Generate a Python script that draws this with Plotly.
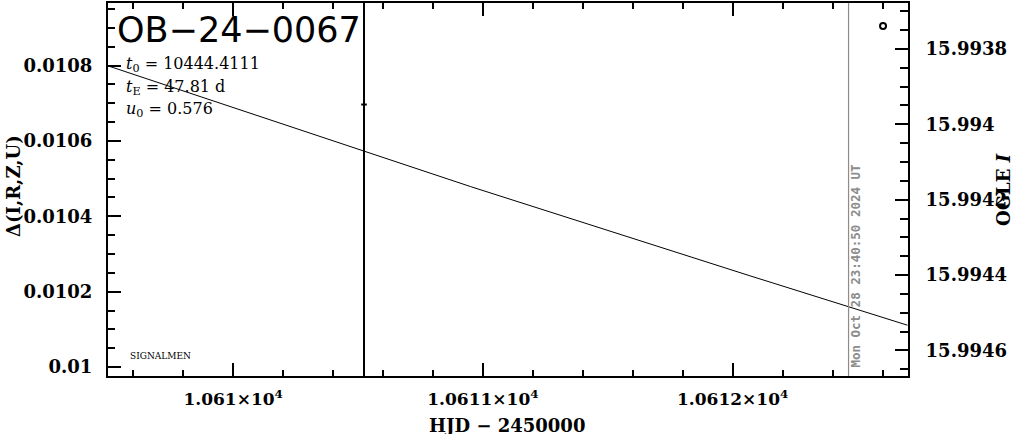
import plotly.graph_objects as go

# ---- data ----
model_t = [10609.50, 10610.53, 10610.95, 10612.07, 10612.46, 10612.70]
model_delta = [0.010799, 0.010571, 0.010479, 0.010242, 0.010161, 0.010111]

obs_t = [10610.524]
obs_delta = [0.0106966]
obs_err = [0.003]

ogle_t = [10612.602]
ogle_mag = [15.993739]

now_t = 10612.464
now_label = "Mon Oct 28 23:40:50 2024 UT"

event_name = "OB\u221224\u22120067"
param_lines = ["<i>t</i><sub>0</sub> = 10444.4111",
               "<i>t</i><sub>E</sub> = 47.81 d",
               "<i>u</i><sub>0</sub> = 0.576"]

x_tickvals = [10610, 10611, 10612]
x_ticktext = ["1.061\u00d710<sup>4</sup>", "1.0611\u00d710<sup>4</sup>", "1.0612\u00d710<sup>4</sup>"]
y_tickvals = [0.0100, 0.0102, 0.0104, 0.0106, 0.0108]
y_ticktext = ["0.01", "0.0102", "0.0104", "0.0106", "0.0108"]
y2_tickvals = [15.9938, 15.9940, 15.9942, 15.9944, 15.9946]
y2_ticktext = ["15.9938", "15.994", "15.9942", "15.9944", "15.9946"]

x_range = [10609.499, 10612.702]
y_range = [0.0099763, 0.010966]
y2_range = [15.994668, 15.993678]

# ---- figure ----
W, H = 1011, 434
L, R, T, B = 108, 103, 1, 58
pw, ph = W - L - R, H - T - B

def px(xp):
    return (xp - L) / pw

def py(yp):
    return (H - B - yp) / ph

tickfont = dict(family="DejaVu Serif", size=18, color="black", weight="bold")
xtickfont = dict(family="DejaVu Serif", size=17, color="black", weight="bold")

fig = go.Figure()
fig.add_trace(go.Scatter(x=model_t, y=model_delta, mode="lines",
                         line=dict(color="black", width=1), showlegend=False))
fig.add_trace(go.Scatter(x=obs_t, y=obs_delta, mode="markers",
                         marker=dict(symbol="line-ew", size=4, line=dict(color="black", width=2)),
                         error_y=dict(type="data", array=obs_err, color="black", thickness=2, width=0),
                         showlegend=False))
fig.add_trace(go.Scatter(x=ogle_t, y=ogle_mag, yaxis="y2", mode="markers",
                         marker=dict(symbol="circle-open", size=6, color="black",
                                     line=dict(color="black", width=2)),
                         showlegend=False))

fig.add_shape(type="line", x0=now_t, x1=now_t, y0=0, y1=1, xref="x", yref="paper",
              line=dict(color="#8c8c8c", width=1.2))

minor_x = dict(dtick=0.2, tick0=10610, ticks="inside", ticklen=6,
               tickwidth=2, tickcolor="black", showgrid=False)

fig.update_layout(
    width=W, height=H,
    margin=dict(l=L, r=R, t=T, b=B, pad=0),
    plot_bgcolor="white", paper_bgcolor="white",
    showlegend=False,
    xaxis=dict(range=x_range, tickvals=x_tickvals, ticktext=x_ticktext,
               ticks="inside", ticklen=13, tickwidth=2, tickcolor="black",
               showline=True, linewidth=2, linecolor="black", mirror=True,
               showgrid=False, zeroline=False, tickfont=xtickfont, ticklabelstandoff=7,
               minor=minor_x),
    xaxis2=dict(range=x_range, overlaying="x", side="top", tickvals=x_tickvals,
                ticks="inside", ticklen=13, tickwidth=2, tickcolor="black",
                showticklabels=False, showline=False,
                showgrid=False, zeroline=False, minor=minor_x),
    yaxis=dict(range=y_range, tickvals=y_tickvals, ticktext=y_ticktext,
               ticks="inside", ticklen=13, tickwidth=2, tickcolor="black",
               showline=True, linewidth=2, linecolor="black",
               showgrid=False, zeroline=False, tickfont=tickfont, ticklabelstandoff=10,
               minor=dict(dtick=0.00005, tick0=0.01, ticks="inside", ticklen=7,
                          tickwidth=2, tickcolor="black", showgrid=False)),
    yaxis2=dict(range=y2_range, overlaying="y", side="right",
                tickvals=y2_tickvals, ticktext=y2_ticktext,
                ticks="inside", ticklen=13, tickwidth=2, tickcolor="black",
                showline=True, linewidth=2, linecolor="black",
                showgrid=False, zeroline=False, tickfont=tickfont, ticklabelstandoff=12,
                minor=dict(dtick=0.00005, tick0=15.994, ticks="inside", ticklen=8,
                           tickwidth=2, tickcolor="black", showgrid=False)),
)

# invisible trace to activate the top x axis
fig.add_trace(go.Scatter(x=[x_range[0]], y=[y_range[0]], xaxis="x2", mode="markers",
                         marker=dict(opacity=0), hoverinfo="skip", showlegend=False))

ann = []
ann.append(dict(text=event_name, x=px(115), y=py(28), xanchor="left", yanchor="middle",
                font=dict(family="DejaVu Sans", size=35, color="black")))
for i, line in enumerate(param_lines):
    ann.append(dict(text=line, x=px(124), y=py(63 + 22.5 * i), xanchor="left", yanchor="middle",
                    font=dict(family="DejaVu Serif", size=16, color="black")))
ann.append(dict(text="SIGNALMEN", x=px(128), y=py(356), xanchor="left", yanchor="middle",
                font=dict(family="DejaVu Serif", size=9, color="black")))
ann.append(dict(text=now_label, x=px(856), y=py(266), xanchor="center", yanchor="middle",
                textangle=-90,
                font=dict(family="DejaVu Sans Mono", size=12.5, color="#8c8c8c", weight="bold")))
ann.append(dict(text="HJD \u2212 2450000", x=px(507), y=py(426), xanchor="center", yanchor="middle",
                font=dict(family="DejaVu Serif", size=18, color="black", weight="bold")))
ann.append(dict(text="\u0394(I,R,Z,U)", x=px(13), y=py(185), xanchor="center", yanchor="middle",
                textangle=-90,
                font=dict(family="DejaVu Serif", size=18, color="black", weight="bold")))
ann.append(dict(text="OGLE <i>I</i>", x=px(1003), y=py(188), xanchor="center", yanchor="middle",
                textangle=-90,
                font=dict(family="DejaVu Serif", size=18, color="black", weight="bold")))
for a in ann:
    a.update(xref="paper", yref="paper", showarrow=False)
fig.update_layout(annotations=ann)

fig.write_html("out.html", config={"displayModeBar": False},
               post_script="document.body.style.margin='0px';document.body.style.overflow='hidden';")
